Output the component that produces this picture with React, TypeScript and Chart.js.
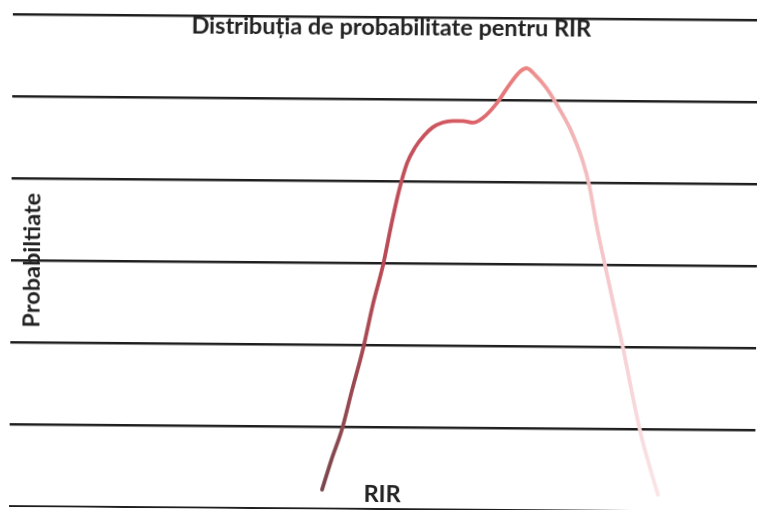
import React, { useEffect, useRef } from "react";
import { Chart, registerables } from "chart.js";

Chart.register(...registerables);

// RIR values (horizontal position, arbitrary units)
const rirValues = [
  40.6, 41.8, 43.1, 44.4, 45.8, 47.0, 48.3, 49.3, 50.3, 51.3, 52.3, 53.5,
  54.6, 55.9, 57.2, 58.5, 59.8, 61.1, 62.8, 64.6, 65.9, 66.7, 68.0, 69.3,
  70.6, 72.4, 74.1, 75.0, 76.0, 77.2, 78.4, 79.6, 80.7, 81.9, 83.1, 84.2,
];
// Probability values (grid lines at each integer step)
const probValues = [
  0.23, 0.6, 0.96, 1.45, 1.96, 2.49, 2.98, 3.46, 3.89, 4.22, 4.41, 4.56,
  4.66, 4.72, 4.74, 4.74, 4.72, 4.78, 4.95, 5.2, 5.35, 5.39, 5.29, 5.15,
  4.96, 4.66, 4.26, 3.95, 3.46, 2.95, 2.45, 1.95, 1.45, 0.94, 0.54, 0.2,
];

const titleText = "Distribuția de probabilitate pentru RIR";
const xTitleText = "RIR";
const yTitleText = "Probabiltiate";

// gradient stops along the RIR axis
const gradStops = [40, 48, 58, 66.7, 72, 79, 85];
const gradColors = ["#74454b", "#b84a55", "#d65a62", "#ec8684", "#f2b2b3", "#f6cfd3", "#fbe8ea"];

export default function App() {
  const ref = useRef<HTMLCanvasElement | null>(null);
  useEffect(() => {
    if (!ref.current) return;
    const data = rirValues.map((x, i) => ({ x, y: probValues[i] }));
    const fontFamily = "Lato, 'Open Sans', sans-serif";
    const fs = 23.5;
    const lh = fs * 1.2;
    const chart = new Chart(ref.current, {
      type: "line",
      data: {
        datasets: [
          {
            data,
            borderWidth: 3.8,
            pointRadius: 0,
            tension: 0.4,
            cubicInterpolationMode: "monotone",
            borderCapStyle: "round",
            borderColor: (ctx: any) => {
              const c = ctx.chart;
              const xs = c.scales && c.scales.x;
              if (!c.chartArea || !xs) return "#c94a57";
              const x0 = xs.getPixelForValue(gradStops[0]);
              const x1 = xs.getPixelForValue(gradStops[gradStops.length - 1]);
              const g = c.ctx.createLinearGradient(x0, 0, x1, 0);
              gradStops.forEach((s, i) => {
                g.addColorStop((s - gradStops[0]) / (gradStops[gradStops.length - 1] - gradStops[0]), gradColors[i]);
              });
              return g;
            },
          },
        ],
      },
      options: {
        animation: false,
        responsive: false,
        layout: { padding: { left: 0, right: -22, top: 0, bottom: 0 } },
        plugins: {
          legend: { display: false },
          tooltip: { enabled: false },
          title: {
            display: true,
            text: titleText,
            color: "#222",
            font: { family: fontFamily, size: fs, weight: "bold", lineHeight: 1.2 },
            padding: { top: 13.4, bottom: 17 - lh - 13.4 },
          },
        },
        scales: {
          x: {
            type: "linear",
            min: 0,
            max: 96.8,
            grid: { display: false, drawTicks: false },
            border: { display: false },
            ticks: { display: false },
            title: {
              display: true,
              text: xTitleText,
              color: "#222",
              font: { family: fontFamily, size: fs, weight: "bold", lineHeight: 1.2 },
              padding: { top: 1 - lh - 1.9, bottom: 1.9 },
            },
          },
          y: {
            min: 0,
            max: 6,
            grid: { display: true, drawTicks: false, color: "#1e1e1e", lineWidth: 2.5 },
            border: { display: false },
            ticks: { display: false, stepSize: 1 },
            title: {
              display: true,
              text: yTitleText,
              color: "#222",
              font: { family: fontFamily, size: fs, weight: "bold", lineHeight: 1.2 },
              padding: { top: 17.9, bottom: 11 - lh - 17.9 },
            },
          },
        },
      },
    });
    return () => chart.destroy();
  }, []);
  return (
    <div
      style={{
        position: "absolute",
        left: 0,
        top: 0,
        width: 757,
        height: 510,
        background: "#fff",
        overflow: "hidden",
      }}
    >
      <canvas
        ref={ref}
        width={757}
        height={510}
        style={{ display: "block", transform: "rotate(0.45deg)" }}
      />
    </div>
  );
}
